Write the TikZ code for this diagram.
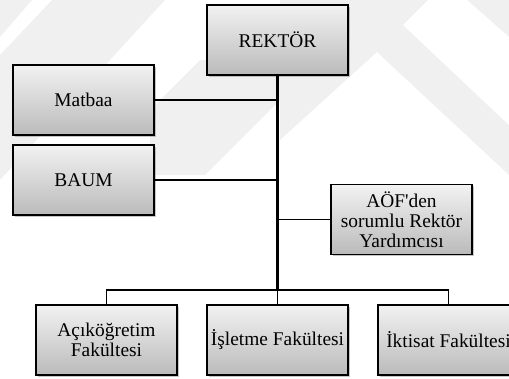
\documentclass[tikz,border=0pt]{standalone}
\usepackage{fontspec}
\setmainfont{Liberation Serif}
\usepackage{tikz}
\usetikzlibrary{shadows}

\tikzset{
  unit/.style={draw=black,line width=1.4pt,minimum width=141pt,minimum height=70pt,
    inner sep=1pt,align=center,top color=black!5,bottom color=black!27,
    drop shadow={shadow xshift=1.5pt,shadow yshift=-1.5pt,opacity=0.45},
    font=\fontsize{19.4}{20}\selectfont},
  trunk/.style={line width=2.6pt},
  branch/.style={line width=1.2pt},
  wm/.style={fill=black!6}
}

\begin{document}
\begin{tikzpicture}[x=1pt,y=-1pt]
    \useasboundingbox (0,0) rectangle (509,378);
    \fill[wm] (0,0) -- (32,0) -- (0,37) -- cycle;
    \fill[wm] (52,0) -- (165,0) -- (0,180) -- (0,55) -- cycle;
    \fill[wm] (200,60) -- (280,60) -- (280,100) -- (205,175) -- (150,175) -- (150,110) -- cycle;
    \fill[wm] (280,0) -- (509,0) -- (509,175) -- (377,52) -- (280,140) -- cycle;
    \fill[white] (403,25) -- (428,0) -- (467,0) -- (509,37) -- (509,125) -- cycle;
    \node[unit] (rektor) at (277.5,40) {REKTÖR};
    \node[unit] (matbaa) at (83.5,100) {Matbaa};
    \node[unit] (baum) at (83.5,180) {BAUM};
    \node[unit] (aof) at (401.5,219.5) {AÖF\textquotesingle den\\sorumlu Rektör\\Yardımcısı};
    \node[unit] (acik) at (106.5,340) {Açıköğretim\\Fakültesi};
    \node[unit] (isletme) at (277.5,340) {İşletme Fakültesi};
    \node[unit] (iktisat) at (448.5,340) {İktisat Fakültesi};
    \coordinate (hub) at (277.5,290);
    \draw[branch] (matbaa) -- (matbaa -| rektor);
    \draw[branch] (baum) -- (baum -| rektor);
    \draw[branch] (aof) -- (aof -| rektor);
    \draw[branch] (acik.north) |- (hub) -| (iktisat.north);
    \draw[branch] (hub) -- (isletme);
    \draw[trunk] (rektor) -- (hub);
\end{tikzpicture}
\end{document}
